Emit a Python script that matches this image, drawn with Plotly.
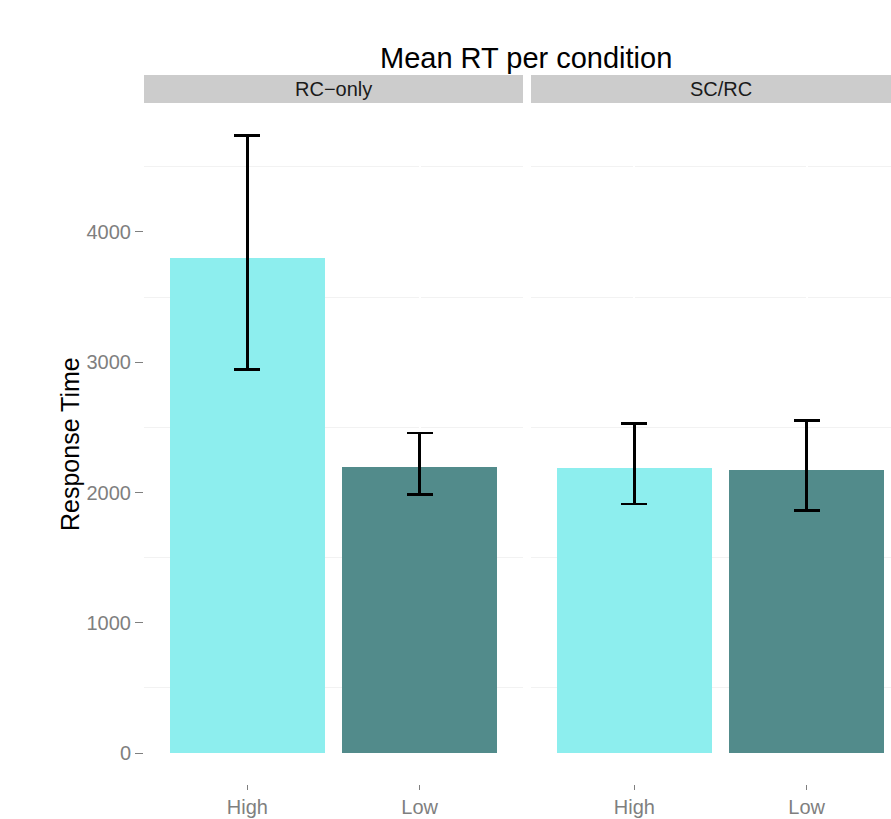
import plotly.graph_objects as go

# ---- data ----
facets = ["RC\u2212only", "SC/RC"]
conditions = ["High", "Low"]
mean_rt = {"RC\u2212only": [3800, 2194], "SC/RC": [2186, 2171]}
upper_rt = {"RC\u2212only": [4738, 2457], "SC/RC": [2529, 2554]}
lower_rt = {"RC\u2212only": [2943, 1987], "SC/RC": [1913, 1862]}
bar_colors = ["#8DEEEE", "#528B8B"]
y_ticks = [0, 1000, 2000, 3000, 4000]
y_minor = [500, 1500, 2500, 3500, 4500]

W, H = 891, 819
L, R, T, B = 144, 0, 104, 35
pw = W - L - R
ph = H - T - B

def px_x(p):
    return (p - L) / pw

def px_y(p):
    return (H - B - p) / ph

fig = go.Figure()
axes = [("x", "y"), ("x2", "y2")]
for f, (xa, ya) in zip(facets, axes):
    m = mean_rt[f]
    fig.add_trace(go.Bar(
        x=conditions, y=m, xaxis=xa, yaxis=ya, width=0.9,
        marker=dict(color=bar_colors, line=dict(width=0)),
        error_y=dict(type="data", symmetric=False,
                     array=[u - v for u, v in zip(upper_rt[f], m)],
                     arrayminus=[v - lo for v, lo in zip(m, lower_rt[f])],
                     color="black", thickness=2.6, width=13),
        showlegend=False, hoverinfo="skip"))

yrange = [-237, 4982]
tickfont = dict(family="Liberation Sans, Arial, sans-serif", size=20, color="#7F7F7F")
common_y = dict(range=yrange, showgrid=True, gridcolor="white", gridwidth=1,
                zeroline=False, showline=False,
                minor=dict(tickvals=y_minor, showgrid=True, gridcolor="#F2F2F2", gridwidth=1.2, ticks=""))
common_x = dict(type="category", showgrid=True, gridcolor="white", gridwidth=2,
                zeroline=False, showline=False, ticks="outside", ticklen=5,
                tickcolor="#7F7F7F", tickwidth=1.2, tickfont=tickfont)

d1 = (0, px_x(523))
d2 = (px_x(531), 1)
span1 = 1.6 - (-0.6)
pxu = (523 - 144) / span1
r2 = -0.6 + (W - 531) / pxu

fig.update_layout(
    width=W, height=H, margin=dict(l=L, r=R, t=T, b=B, autoexpand=False),
    paper_bgcolor="white", plot_bgcolor="white",
    font=dict(family="Liberation Sans, Arial, sans-serif"),
    xaxis=dict(domain=d1, range=[-0.6, 1.6], **common_x),
    xaxis2=dict(domain=d2, range=[-0.6, r2], anchor="y2", **common_x),
    yaxis=dict(domain=[0, 1], tickvals=y_ticks, ticks="outside", ticklen=8,
               tickcolor="#7F7F7F", tickwidth=1.2, tickfont=tickfont, **common_y),
    yaxis2=dict(domain=[0, 1], anchor="x2", matches="y", showticklabels=False,
                ticks="", tickvals=y_ticks, **common_y),
    bargap=0,
)

# white vertical category lines crossing the light horizontal grid (ggplot look)
shapes = []
for xa in ["x", "x2"]:
    for c in conditions:
        shapes.append(dict(type="line", xref=xa, yref="paper", x0=c, x1=c, y0=0, y1=1,
                           line=dict(color="white", width=2), layer="between"))
# facet strips
for (x0p, x1p) in [(144, 523), (531, W)]:
    shapes.append(dict(type="rect", xref="paper", yref="paper",
                       x0=px_x(x0p), x1=px_x(x1p), y0=px_y(103), y1=px_y(75),
                       fillcolor="#CCCCCC", line=dict(width=0), layer="above"))
fig.update_layout(shapes=shapes)

ann = []
strip_centers = [(144 + 523) / 2, (531 + 910) / 2]
for f, cx in zip(facets, strip_centers):
    ann.append(dict(text=f, xref="paper", yref="paper", x=px_x(cx), y=px_y(89),
                    xanchor="center", yanchor="middle", showarrow=False,
                    font=dict(size=20, color="#1A1A1A")))
ann.append(dict(text="Mean RT per condition", xref="paper", yref="paper",
                x=px_x(526), y=px_y(58), xanchor="center", yanchor="middle",
                showarrow=False, font=dict(size=29, color="black")))
ann.append(dict(text="Response Time", xref="paper", yref="paper",
                x=px_x(70), y=0.5, xanchor="center", yanchor="middle",
                textangle=-90, showarrow=False, font=dict(size=25, color="black")))
fig.update_layout(annotations=ann)

fig.write_html("out.html", config={"displayModeBar": False},
               post_script="document.body.style.margin='0';document.body.style.overflow='hidden';")
